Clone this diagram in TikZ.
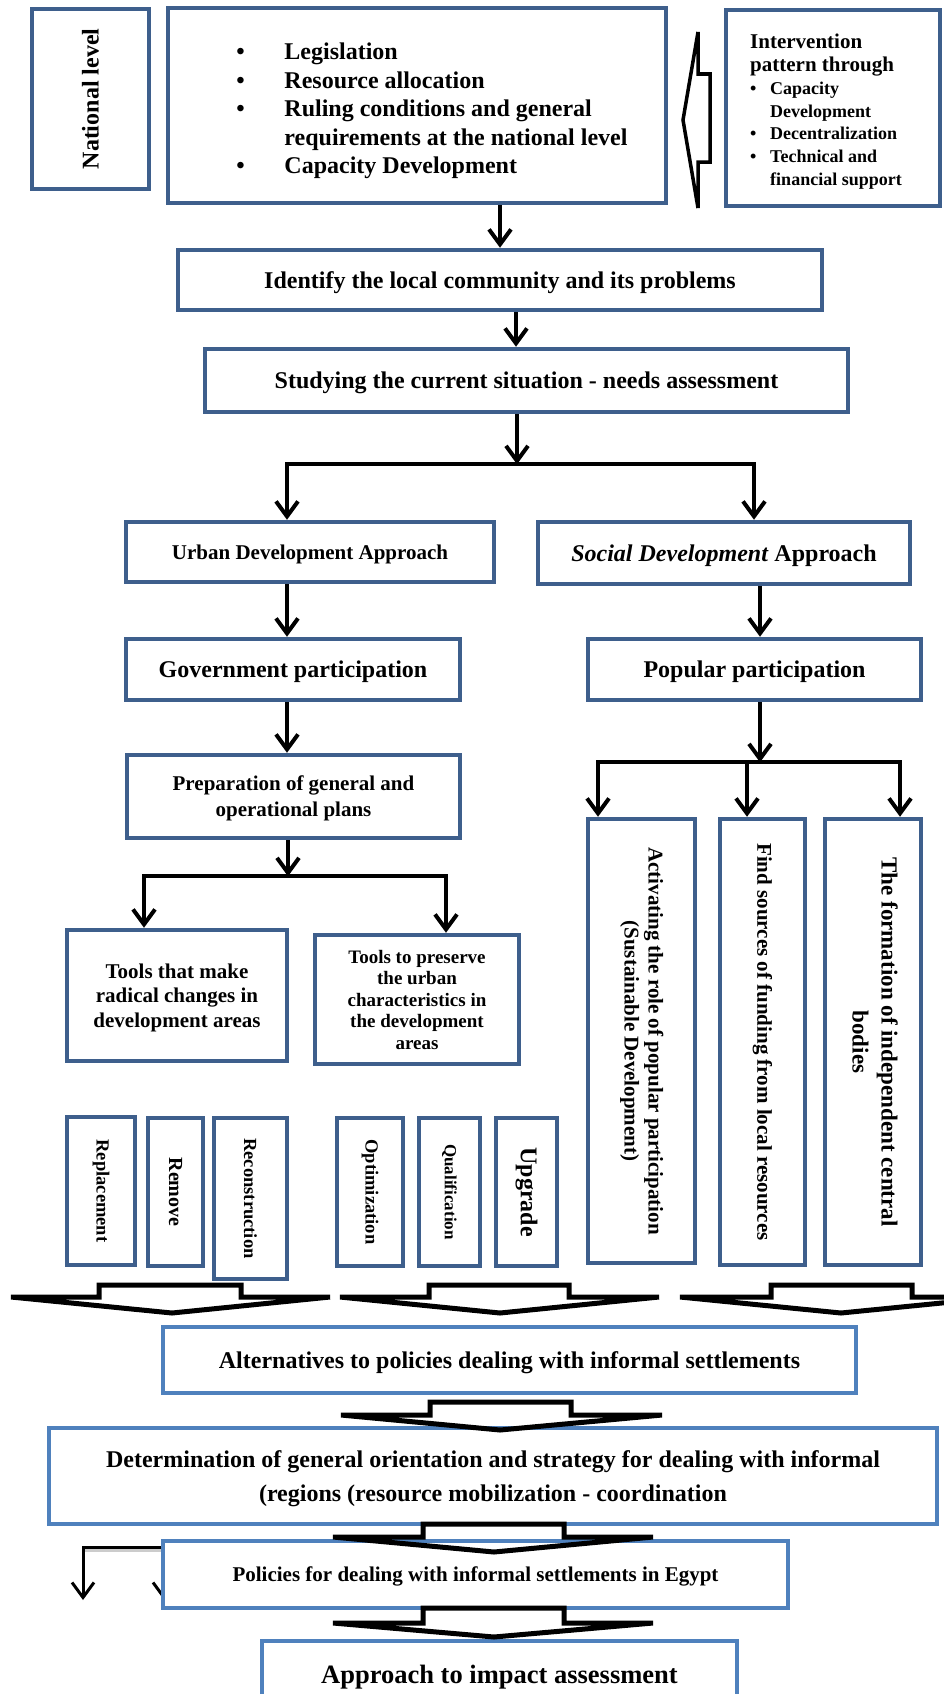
\documentclass[tikz,border=0pt]{standalone}
\usepackage{fontspec}
\setmainfont{Liberation Serif}
\usetikzlibrary{arrows.meta,calc}
\definecolor{bdark}{RGB}{62,95,140}
\definecolor{blight}{RGB}{79,129,189}
\newcommand{\myfs}[2]{\fontsize{#1}{#2}\selectfont}
\newcommand{\lowerby}[2]{\raisebox{0pt}[\dimexpr\height+#1\relax][\dimexpr\depth-#1\relax]{#2}}
\tikzset{
 box/.style={draw=bdark, line width=4.5pt, fill=white, inner sep=0pt, align=center, font=\bfseries},
 lbox/.style={box, draw=blight, line width=4pt},
 tb/.style={text depth=0pt},
 fsz/.style 2 args={font=\bfseries\fontsize{#1}{#2}\selectfont},
 arr/.style={line width=4pt, -{Straight Barb[length=15pt,width=22pt]}},
 harrow/.style={draw=black, line width=5pt, line join=miter},
}
\begin{document}
\begin{tikzpicture}[x=1pt,y=-1pt]
\useasboundingbox (0,0) rectangle (944,1694);
\clip (0,0) rectangle (944,1694);

% hidden arrow behind the policies box
\coordinate (pBs) at (164,1547);
\coordinate (pB) at (164,1600);
\draw[arr, line width=3pt] (pBs) -- (pB);

% ---------- top row ----------
\node[box, fsz={24}{28}, minimum width=117pt, minimum height=180pt] (nat) at (90.5,99)
  {\rotatebox{90}{National level}};
\node[box, fsz={24}{28.5}, minimum width=498pt, minimum height=195pt] (top) at (417,105.5)
  {\hspace*{30pt}\lowerby{5.5pt}{\begin{tabular}{@{}p{48pt}@{}l@{}}
  \textbullet & Legislation\\
  \textbullet & Resource allocation\\
  \textbullet & Ruling conditions and general\\
   & requirements at the national level\\
  \textbullet & Capacity Development
  \end{tabular}}};
\node[box, fsz={18}{22.8}, minimum width=214pt, minimum height=196pt] (interv) at (833,108)
  {\lowerby{4.5pt}{\begin{tabular}{@{}p{20pt}@{}l@{}}
   \multicolumn{2}{@{}l@{}}{\myfs{21}{22.8}Intervention}\\
   \multicolumn{2}{@{}l@{}}{\myfs{21}{22.8}pattern through}\\
   \textbullet & Capacity\\
    & Development\\
   \textbullet & Decentralization\\
   \textbullet & Technical and\\
    & financial support
   \end{tabular}}\hspace*{14pt}};

% ---------- main chain ----------
\node[box, tb, fsz={24}{28}, minimum width=644pt, minimum height=60pt] (ident) at (500,280)
  {Identify the local community and its problems};
\node[box, tb, fsz={24}{28}, minimum width=643pt, minimum height=63pt] (study) at (526.5,380.5)
  {Studying the current situation - needs assessment};

\node[box, tb, fsz={21}{25}, minimum width=368pt, minimum height=60pt] (urban) at (310,552)
  {Urban Development Approach};
\node[box, tb, fsz={24}{28}, minimum width=372pt, minimum height=62pt] (social) at (724,553)
  {\textit{Social Development} Approach};
\node[box, tb, fsz={24}{28}, minimum width=334pt, minimum height=61pt] (gov) at (293,669.5)
  {Government participation};
\node[box, tb, fsz={24}{28}, minimum width=333pt, minimum height=61pt] (popular) at (754.5,669.5)
  {Popular participation};
\node[box, tb, fsz={21}{26}, minimum width=333pt, minimum height=83pt] (prep) at (293.5,796.5)
  {Preparation of general and\\operational plans};

\node[box, tb, fsz={21}{24.5}, minimum width=220pt, minimum height=131pt] (radical) at (177,995.5)
  {Tools that make\\radical changes in\\development areas};
\node[box, fsz={19}{21.5}, minimum width=204pt, minimum height=129pt] (preserve) at (417,999.5)
  {Tools to preserve\\the urban\\characteristics in\\the development\\areas};

\node[box, fsz={21}{24}, minimum width=107pt, minimum height=444pt] (activ) at (641.5,1041)
  {\rotatebox{-90}{\begin{tabular}{@{}c@{}}Activating the role of popular participation\\(Sustainable Development)\end{tabular}}};
\node[box, fsz={21}{24}, minimum width=85pt, minimum height=446pt] (find) at (762.5,1042)
  {\rotatebox{-90}{Find sources of funding from local resources}};
\node[box, fsz={23}{29}, minimum width=96pt, minimum height=446pt] (form) at (873,1042)
  {\rotatebox{-90}{\begin{tabular}{@{}c@{}}The formation of independent central\\bodies\end{tabular}}};

\node[box, fsz={18.5}{20}, minimum width=68pt, minimum height=148pt] (repl) at (101,1191)
  {\rotatebox{-90}{Replacement}};
\node[box, fsz={20}{22}, minimum width=55pt, minimum height=148pt] (remove) at (175.5,1192)
  {\rotatebox{-90}{Remove}};
\node[box, fsz={18.5}{20}, minimum width=73pt, minimum height=161pt] (recon) at (250.5,1198.5)
  {\rotatebox{-90}{Reconstruction}};
\node[box, fsz={18.5}{20}, minimum width=66pt, minimum height=148pt] (optim) at (370,1192)
  {\rotatebox{-90}{Optimization}};
\node[box, fsz={17}{20}, minimum width=61pt, minimum height=148pt] (qual) at (449.5,1192)
  {\rotatebox{-90}{Qualification}};
\node[box, fsz={24}{26}, minimum width=61pt, minimum height=148pt] (upgr) at (526.5,1192)
  {\rotatebox{-90}{Upgrade}};

\node[lbox, tb, fsz={24}{28}, minimum width=693pt, minimum height=66pt] (alt) at (509.5,1360)
  {Alternatives to policies dealing with informal settlements};
\node[lbox, tb, fsz={24}{34}, minimum width=888pt, minimum height=96pt] (determ) at (493,1476)
  {Determination of general orientation and strategy for dealing with informal\\(regions (resource mobilization - coordination};
\node[lbox, tb, fsz={21}{25}, minimum width=625pt, minimum height=67pt] (policies) at (475.5,1574.5)
  {Policies for dealing with informal settlements in Egypt};
\node[lbox, tb, fsz={26.5}{30}, minimum width=475pt, minimum height=66pt] (approach) at (499.5,1674)
  {Approach to impact assessment};

% ---------- connectors ----------
\draw[arr] (top.south -| ident.north) -- (ident.north);
\coordinate (a2) at ([xshift=16pt]ident.south);
\draw[arr] (a2) -- (a2 |- study.north);

\coordinate (s1) at ([xshift=-9.5pt]study.south);
\coordinate (b1) at ([yshift=-50pt]s1);
\coordinate (uN) at ([xshift=-23pt]urban.north);
\coordinate (sN) at ([xshift=30pt]social.north);
\draw[arr] (s1) -- (b1);
\draw[arr] (b1) -| (uN);
\draw[arr] (b1) -| (sN);

\coordinate (u1) at ([xshift=-23pt]urban.south);
\draw[arr] (u1) -- (u1 |- gov.north);
\coordinate (s2) at ([xshift=36pt]social.south);
\draw[arr] (s2) -- (s2 |- popular.north);
\coordinate (g1) at ([xshift=-6pt]gov.south);
\draw[arr] (g1) -- (g1 |- prep.north);

\coordinate (p1) at ([xshift=-5.5pt]prep.south);
\coordinate (b2) at ([yshift=-36pt]p1);
\coordinate (rN) at ([xshift=-33pt]radical.north);
\coordinate (pN) at ([xshift=29pt]preserve.north);
\draw[arr] (p1) -- (b2);
\draw[arr] (b2) -| (rN);
\draw[arr] (b2) -| (pN);

\coordinate (q1) at ([xshift=5.5pt]popular.south);
\coordinate (b3) at ([yshift=-60pt]q1);
\coordinate (aN) at ([xshift=-43.5pt]activ.north);
\coordinate (fN) at ([xshift=-15.5pt]find.north);
\coordinate (oN) at ([xshift=27pt]form.north);
\draw[arr] (q1) -- (b3);
\draw[arr] (b3) -| (aN);
\draw[arr] (b3) -| (oN);
\draw[arr] (b3 -| fN) -- (fN);

\coordinate (pA) at (83,1600);
\draw[gray!40, line width=3pt] ([yshift=-11pt]policies.north west) -- ++(-76,0);
\draw[arr, line width=3pt] ([yshift=-8pt]policies.north west) -| (pA);

% ---------- block arrows ----------
\draw[harrow, line width=3.5pt] (710,74) -- (698,74) -- (698,32) -- (683,120) -- (698,208) -- (698,162) -- (710,162) -- cycle;

\draw[harrow] (99,1285) -- (241,1285) -- (241,1297) -- (330,1297) -- (172,1313) -- (11,1297) -- (99,1297) -- cycle;
\draw[harrow] (429,1285) -- (569,1285) -- (569,1297) -- (659,1297) -- (500,1313) -- (340,1297) -- (429,1297) -- cycle;
\draw[harrow] (771,1285) -- (912,1285) -- (912,1297) -- (1002,1297) -- (841,1313) -- (680,1297) -- (771,1297) -- cycle;
\draw[harrow] (430,1402) -- (571,1402) -- (571,1415) -- (662,1415) -- (500,1430) -- (341,1415) -- (430,1415) -- cycle;
\draw[harrow] (423,1524) -- (564,1524) -- (564,1537) -- (653,1537) -- (494,1552) -- (333,1537) -- (423,1537) -- cycle;
\draw[harrow] (423,1608) -- (564,1608) -- (564,1623) -- (653,1623) -- (494,1637) -- (333,1623) -- (423,1623) -- cycle;
\end{tikzpicture}
\end{document}
